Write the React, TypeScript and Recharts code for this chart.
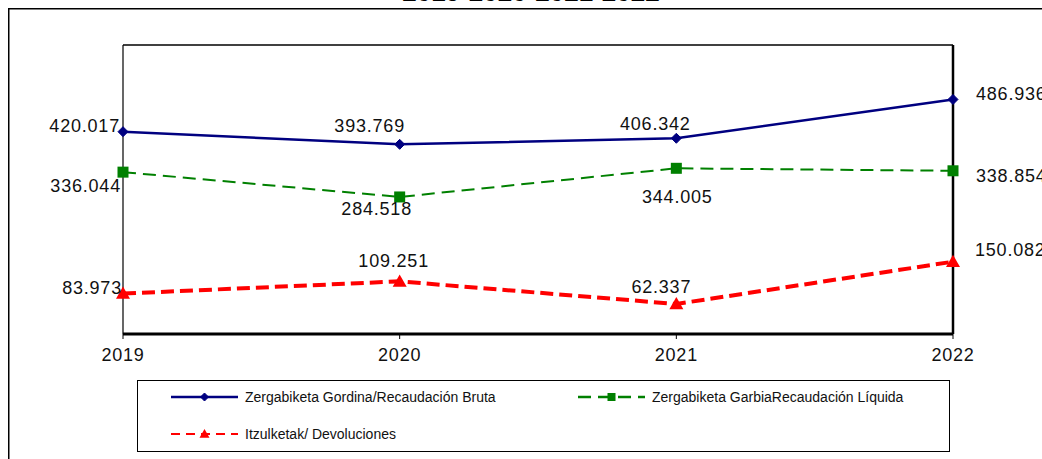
import React from 'react';
import { LineChart, Line, XAxis, YAxis, ReferenceLine, LabelList } from 'recharts';

const years = ['2019', '2020', '2021', '2022'];
const gross = [420017, 393769, 406342, 486936];
const net = [336044, 284518, 344005, 338854];
const refunds = [83973, 109251, 62337, 150082];

const seriesNames = {
  gross: 'Zergabiketa Gordina/Recaudación Bruta',
  net: 'Zergabiketa GarbiaRecaudación Líquida',
  refunds: 'Itzulketak/ Devoluciones',
};
const titleText = '2019-2020-2021-2022';

const data = years.map((year, i) => ({ year, gross: gross[i], net: net[i], refunds: refunds[i] }));

type Pos = { dx: number; dy: number; anchor: 'start' | 'middle' | 'end' };
const grossLabelPos: Pos[] = [
  { dx: -3, dy: -6, anchor: 'end' },
  { dx: -30, dy: -18, anchor: 'middle' },
  { dx: -21, dy: -14, anchor: 'middle' },
  { dx: 23, dy: -5, anchor: 'start' },
];
const netLabelPos: Pos[] = [
  { dx: -2, dy: 14, anchor: 'end' },
  { dx: -23, dy: 12, anchor: 'middle' },
  { dx: 1, dy: 29, anchor: 'middle' },
  { dx: 23, dy: 5, anchor: 'start' },
];
const refundLabelPos: Pos[] = [
  { dx: -1, dy: -6, anchor: 'end' },
  { dx: -6, dy: -20, anchor: 'middle' },
  { dx: -15, dy: -17, anchor: 'middle' },
  { dx: 22, dy: -12, anchor: 'start' },
];

const BLUE = '#000080';
const GREEN = '#008000';
const RED = '#FF0000';
const FONT = '"Liberation Sans", Arial, sans-serif';

const fmt = (n: number) => String(n).replace(/\B(?=(\d{3})+(?!\d))/g, '.');

const makeLabel = (pos: Pos[]) => (props: any) => {
  const { x, y, value, index } = props;
  const p = pos[index] || { dx: 0, dy: -10, anchor: 'middle' };
  return (
    <text
      x={x + p.dx}
      y={y + p.dy}
      textAnchor={p.anchor}
      dominantBaseline="central"
      fontFamily={FONT}
      fontSize={18}
      letterSpacing={0.8}
      fill="#111"
    >
      {fmt(value)}
    </text>
  );
};

const Diamond = ({ cx, cy, s = 5, color }: any) => (
  <polygon points={`${cx},${cy - s} ${cx + s},${cy} ${cx},${cy + s} ${cx - s},${cy}`} fill={color} stroke={color} />
);
const Square = ({ cx, cy, s = 5.5, color }: any) => (
  <rect x={cx - s} y={cy - s} width={2 * s} height={2 * s} fill={color} />
);
const Triangle = ({ cx, cy, s = 6.5, color }: any) => (
  <polygon points={`${cx},${cy - s} ${cx + s},${cy + s * 0.75} ${cx - s},${cy + s * 0.75}`} fill={color} />
);

const LegendItem = ({ left, top, color, dash, width, Marker, ms, label }: any) => (
  <div style={{ position: 'absolute', left, top, height: 16, display: 'flex', alignItems: 'center' }}>
    <svg width={67} height={16} style={{ display: 'block' }}>
      <line x1={0} y1={8} x2={67} y2={8} stroke={color} strokeWidth={width} strokeDasharray={dash} />
      <Marker cx={33.5} cy={8} s={ms} color={color} />
    </svg>
    <span style={{ marginLeft: 7, fontFamily: FONT, fontSize: 14, color: '#111', whiteSpace: 'nowrap' }}>{label}</span>
  </div>
);

export default function App() {
  return (
    <div style={{ position: 'absolute', left: 0, top: 0, width: 1042, height: 459, overflow: 'hidden', background: '#fff' }}>
      <svg width={1042} height={459} style={{ position: 'absolute', left: 0, top: 0 }}>
        <text x={531} y={1} textAnchor="middle" fontFamily={FONT} fontWeight="bold" fontSize={26} fill="#000">
          {titleText}
        </text>
        <rect x={8.75} y={8.75} width={1060} height={480} fill="none" stroke="#000" strokeWidth={1.5} />
      </svg>
      <div style={{ position: 'absolute', left: 0, top: 0 }}>
        <LineChart width={1042} height={459} data={data} margin={{ top: 45, left: 123, right: 89, bottom: 95 }}>
          <XAxis
            dataKey="year"
            height={30}
            padding={{ left: 0, right: 0 }}
            axisLine={{ stroke: '#000', strokeWidth: 3 }}
            tickLine={{ stroke: '#000', strokeWidth: 1 }}
            tickSize={5}
            tickMargin={9}
            tick={{ fill: '#111', fontSize: 18, fontFamily: FONT, letterSpacing: 0.8 }}
          />
          <YAxis yAxisId="left" domain={[0, 600000]} hide />
          <ReferenceLine yAxisId="left" y={600000} stroke="#000" strokeWidth={1.5} />
          <ReferenceLine yAxisId="left" x={years[0]} stroke="#000" strokeWidth={1.2} />
          <ReferenceLine yAxisId="left" x={years[years.length - 1]} stroke="#000" strokeWidth={2.5} />
          <Line
            yAxisId="left"
            dataKey="gross"
            stroke={BLUE}
            strokeWidth={2.5}
            isAnimationActive={false}
            dot={(p: any) => <Diamond key={`g${p.index}`} cx={p.cx} cy={p.cy} s={5} color={BLUE} />}
          >
            <LabelList dataKey="gross" content={makeLabel(grossLabelPos)} />
          </Line>
          <Line
            yAxisId="left"
            dataKey="net"
            stroke={GREEN}
            strokeWidth={2}
            strokeDasharray="13 7"
            isAnimationActive={false}
            dot={(p: any) => <Square key={`n${p.index}`} cx={p.cx} cy={p.cy} s={5.5} color={GREEN} />}
          >
            <LabelList dataKey="net" content={makeLabel(netLabelPos)} />
          </Line>
          <Line
            yAxisId="left"
            dataKey="refunds"
            stroke={RED}
            strokeWidth={4}
            strokeDasharray="13 6"
            isAnimationActive={false}
            dot={(p: any) => <Triangle key={`r${p.index}`} cx={p.cx} cy={p.cy} s={7} color={RED} />}
          >
            <LabelList dataKey="refunds" content={makeLabel(refundLabelPos)} />
          </Line>
        </LineChart>
      </div>
      <div style={{ position: 'absolute', left: 137, top: 380, width: 813, height: 72, border: '1.5px solid #000', boxSizing: 'border-box' }}>
        <LegendItem left={33} top={8} color={BLUE} width={2.5} Marker={Diamond} ms={4} label={seriesNames.gross} />
        <LegendItem left={440} top={8} color={GREEN} width={2.5} dash="13 7" Marker={Square} ms={4} label={seriesNames.net} />
        <LegendItem left={33} top={45} color={RED} width={2} dash="9 6" Marker={Triangle} ms={5} label={seriesNames.refunds} />
      </div>
    </div>
  );
}
